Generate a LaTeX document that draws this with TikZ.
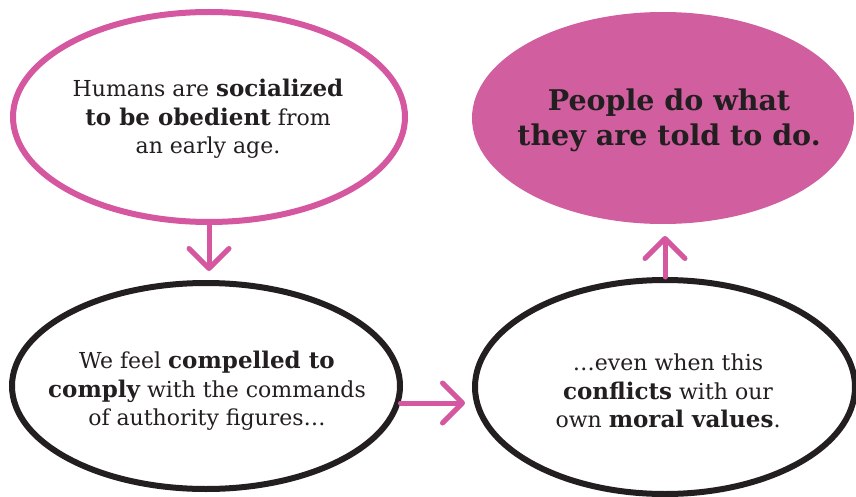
\documentclass[tikz,border=0pt]{standalone}
\usepackage{fontspec}
\setmainfont{DejaVu Serif}
\usepackage{xcolor}
\definecolor{obeypink}{HTML}{D4579F}
\definecolor{obeyfill}{HTML}{D15E9F}
\definecolor{inkblack}{HTML}{231F20}
\usepackage{tikz}
\usetikzlibrary{shapes.geometric, arrows.meta, positioning}
\newcommand{\slabbold}[1]{{\fontsize{23}{28.5}\selectfont\bfseries #1}}

\begin{document}
\begin{tikzpicture}[x=1pt, y=-1pt,
  bubble/.style={ellipse, line width=6pt, inner sep=0pt},
  words/.style={align=center, text=inkblack, font=\fontsize{22}{28.5}\selectfont},
  pinkarrow/.style={line width=5pt, obeypink, line cap=round,
    -{Straight Barb[length=20pt, width=40pt, line cap=round, line join=round]}}
]
\useasboundingbox (0,0) rectangle (856,497);

\node[bubble, draw=obeypink, fill=white, minimum width=392pt, minimum height=210pt] (social) at (209,117) {};
\node[bubble, fill=obeyfill, minimum width=382pt, minimum height=212pt] (told) at (663,118) {};
\node[bubble, draw=inkblack, fill=white, minimum width=388pt, minimum height=206pt] (comply) at (206,386) {};
\node[bubble, draw=inkblack, fill=white, minimum width=380pt, minimum height=214pt] (conflict) at (665,387) {};

\node[words] (socialtxt) at (208,119)
  {Humans are \slabbold{socialized}\\ \slabbold{to be obedient} from\\ an early age.};
\node[words, font=\fontsize{28.5}{35}\selectfont\bfseries] (toldtxt) at (669,120)
  {People do what\\ they are told to do.};
\node[words] (complytxt) at (207,391)
  {We feel \slabbold{compelled to}\\ \slabbold{comply} with the commands\\ of authority figures\dots};
\node[words] (conflicttxt) at (668,391)
  {\dots even when this\\ \slabbold{conflicts} with our\\ own \slabbold{moral values}.};

\draw[pinkarrow, shorten >=9pt] (social.south) -- (social.south |- comply.north);
\draw[pinkarrow, shorten >=7pt] (comply.-5) -- (comply.-5 -| conflict.west);
\draw[pinkarrow, shorten >=9pt] (conflict.north) -- (conflict.north |- told.south);
\end{tikzpicture}
\end{document}
